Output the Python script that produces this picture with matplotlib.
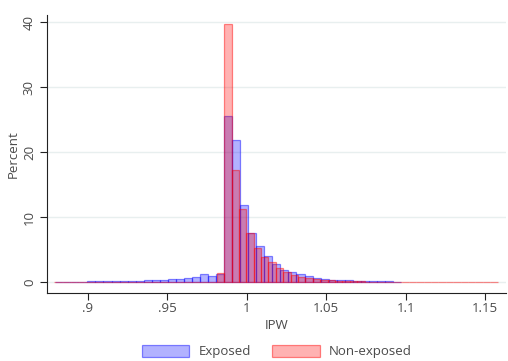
import numpy as np
from matplotlib import pyplot as plt

# bins: left edge of the first bin and bin width (IPW units)
exposed_start, exposed_width = 0.8794, 0.005063
nonexp_start, nonexp_width = 0.8787, 0.004654

# percent per bin
exposed_pct = [0.03, 0.03, 0.03, 0.03, 0.1, 0.1, 0.1, 0.1, 0.1, 0.1,
               0.15, 0.3, 0.3, 0.3, 0.45, 0.5, 0.6, 0.77, 1.2, 1.0, 1.25,
               25.5, 21.9, 11.9, 7.5, 5.6, 4.0, 2.8, 1.9, 1.5, 1.2,
               0.97, 0.7, 0.5, 0.35, 0.3, 0.25, 0.2, 0.15, 0.12, 0.1, 0.1, 0.08]
nonexp_pct = [0.05, 0.05, 0.05, 0.05, 0.05, 0.05, 0.05, 0.05, 0.05, 0.05,
              0.05, 0.05, 0.05, 0.05, 0.05, 0.05, 0.05, 0.05, 0.05, 0.05,
              0.05, 0.05, 1.4,
              39.8, 17.2, 11.2, 7.5, 5.2, 3.9, 3.1, 2.2, 1.5, 1.1,
              0.86, 0.6, 0.46, 0.35, 0.25, 0.2, 0.15, 0.12, 0.1, 0.08,
              0.07, 0.06, 0.05, 0.05, 0.04, 0.04, 0.04, 0.03, 0.03, 0.03,
              0.03, 0.03, 0.02, 0.02, 0.02, 0.02, 0.02]

xticks = [0.9, 0.95, 1.0, 1.05, 1.1, 1.15]
xlabels = ['.9', '.95', '1', '1.05', '1.1', '1.15']
yticks = [0, 10, 20, 30, 40]

plt.rcParams['font.family'] = ['Open Sans', 'DejaVu Sans']
txt = '#4a4a4a'

fig = plt.figure(figsize=(5.08, 3.61), dpi=100)
ax = fig.add_axes([0.0925, 0.188, 0.9035, 0.77])

#bars
ex_left = exposed_start + exposed_width * np.arange(len(exposed_pct))
ax.bar(ex_left, exposed_pct, width=exposed_width, align='edge',
       facecolor=(0, 0, 1, 0.3), edgecolor=(0, 0, 1, 0.45), linewidth=0.9, label='Exposed')
ne_left = nonexp_start + nonexp_width * np.arange(len(nonexp_pct))
ax.bar(ne_left, nonexp_pct, width=nonexp_width, align='edge',
       facecolor=(1, 0, 0, 0.3), edgecolor=(1, 0, 0, 0.45), linewidth=0.9, label='Non-exposed')

#axes
ax.set_xlim(0.8742, 1.1632)
ax.set_ylim(-1.7, 41.1)
ax.set_xticks(xticks)
ax.set_xticklabels(xlabels)
ax.set_yticks(yticks)
ax.tick_params(axis='y', labelrotation=90, length=5, pad=3, color='#222222', labelcolor=txt, labelsize=9.5)
ax.tick_params(axis='x', length=5, pad=1.5, color='#222222', labelcolor=txt, labelsize=9.5)
for lab in ax.get_yticklabels():
    lab.set_va('center')
ax.spines['top'].set_visible(False)
ax.spines['right'].set_visible(False)
ax.spines['left'].set_color('#222222')
ax.spines['bottom'].set_color('#222222')
ax.yaxis.grid(True, color='#e8efef', lw=1)
ax.set_axisbelow(True)
ax.set_xlabel('IPW', color=txt, fontsize=9.5, labelpad=3)
ax.set_ylabel('Percent', color=txt, fontsize=9.5, labelpad=2)

#legend centred under the plot region
fig.legend(loc='lower center', bbox_to_anchor=(0.545, -0.025), ncol=2, frameon=False,
           handlelength=3.6, handleheight=1.0, columnspacing=1.6, handletextpad=0.7,
           fontsize=9.5, labelcolor=txt)

fig.savefig('out.png', dpi=100)
